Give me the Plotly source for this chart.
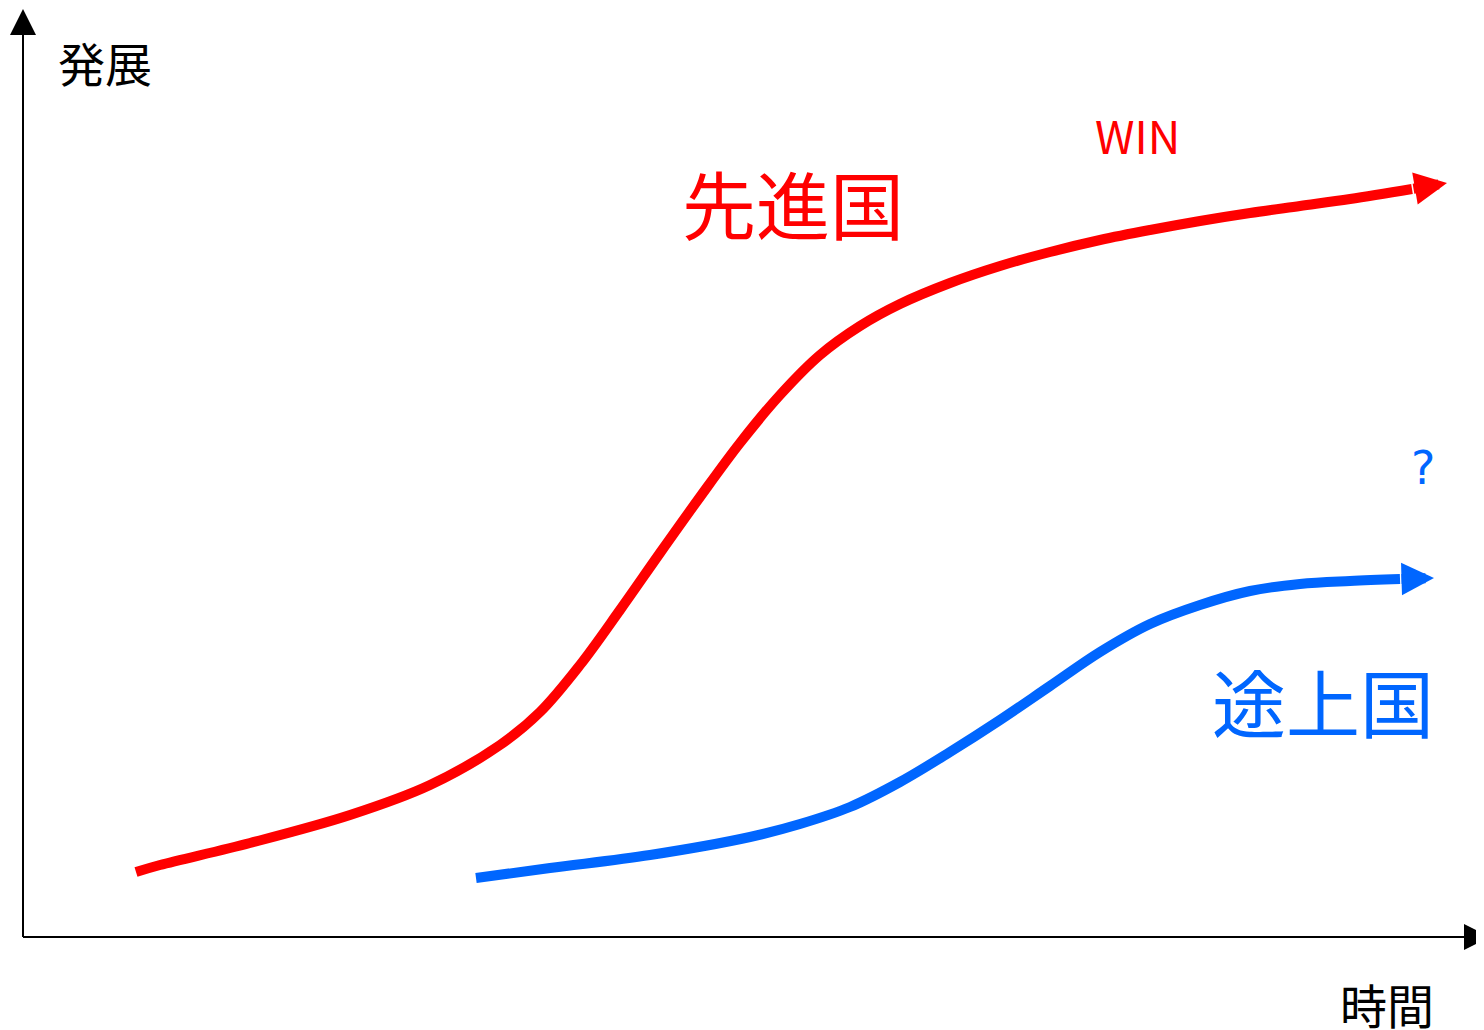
import plotly.graph_objects as go

# Data (pixel-space values, x to the right, y downward)
red_x = [136, 160, 250, 350, 430, 500, 540, 580, 620, 660, 700, 740, 780, 820, 860, 900, 950, 1000, 1050, 1100, 1150, 1200, 1250, 1300, 1350, 1412]
red_y = [872, 865, 843, 815, 785, 745, 712, 665, 610, 553, 497, 443, 395, 355, 326, 304, 283, 266, 252, 240, 230, 221, 213, 206, 199, 189]
red_tip = [1447, 183]

blue_x = [476, 550, 650, 750, 800, 850, 900, 950, 1000, 1050, 1100, 1150, 1200, 1250, 1300, 1350, 1400]
blue_y = [878, 868, 855, 837, 824, 807, 782, 752, 720, 686, 652, 624, 605, 591, 584, 581, 579]
blue_tip = [1434, 578]

axis_origin = [23, 937]
y_axis_tip = [23, 9]
x_axis_tip = [1490, 937]

labels = [
    ("発展", 105, 61, "black", 47, "Noto Sans CJK JP"),
    ("時間", 1387, 1003, "black", 47, "Noto Sans CJK JP"),
    ("先進国", 793, 201, "#ff0000", 74, "Noto Sans CJK JP"),
    ("WIN", 1137, 134, "#ff0000", 45, "Noto Sans CJK JP"),
    ("?", 1423, 468, "#0066ff", 46, "DejaVu Sans"),
    ("途上国", 1323, 699, "#0066ff", 74, "Noto Sans CJK JP"),
]

fig = go.Figure()

# axes lines
fig.add_trace(go.Scatter(x=[axis_origin[0], y_axis_tip[0]], y=[axis_origin[1], y_axis_tip[1] + 20],
                         mode="lines", line=dict(color="black", width=2), hoverinfo="skip"))
fig.add_trace(go.Scatter(x=[axis_origin[0], x_axis_tip[0] - 20], y=[axis_origin[1], x_axis_tip[1]],
                         mode="lines", line=dict(color="black", width=2), hoverinfo="skip"))

# curves
fig.add_trace(go.Scatter(x=red_x, y=red_y, mode="lines", line=dict(color="#ff0000", width=10, shape="spline"),
                         hoverinfo="skip"))
fig.add_trace(go.Scatter(x=blue_x, y=blue_y, mode="lines", line=dict(color="#0066ff", width=10, shape="spline"),
                         hoverinfo="skip"))

# arrow heads
arrows = [
    (red_x[-1], red_y[-1], red_tip, "#ff0000", 10, 0.65),
    (blue_x[-1], blue_y[-1], blue_tip, "#0066ff", 10, 0.65),
    (axis_origin[0], y_axis_tip[1] + 40, y_axis_tip, "black", 2, 2.6),
    (x_axis_tip[0] - 40, axis_origin[1], x_axis_tip, "black", 2, 2.6),
]
for (sx, sy, tip, col, w, s) in arrows:
    fig.add_annotation(x=tip[0], y=tip[1], ax=sx, ay=sy, xref="x", yref="y", axref="x", ayref="y",
                       showarrow=True, arrowhead=2, arrowcolor=col, arrowwidth=w, arrowsize=s, text="",
                       standoff=0)

for (txt, x, y, col, fs, fam) in labels:
    fig.add_annotation(x=x, y=y, xref="x", yref="y", text=txt, showarrow=False,
                       font=dict(family=fam, size=fs, color=col),
                       xanchor="center", yanchor="middle")

# page body has an 8px margin, so the figure starts at page pixel 8
fig.update_layout(
    width=1476, height=1022,
    margin=dict(l=0, r=0, t=0, b=0),
    paper_bgcolor="white", plot_bgcolor="white",
    showlegend=False,
    xaxis=dict(range=[8, 1484], visible=False, fixedrange=True),
    yaxis=dict(range=[1030, 8], visible=False, fixedrange=True),
)

fig.write_html("out.html", config={"displayModeBar": False})
